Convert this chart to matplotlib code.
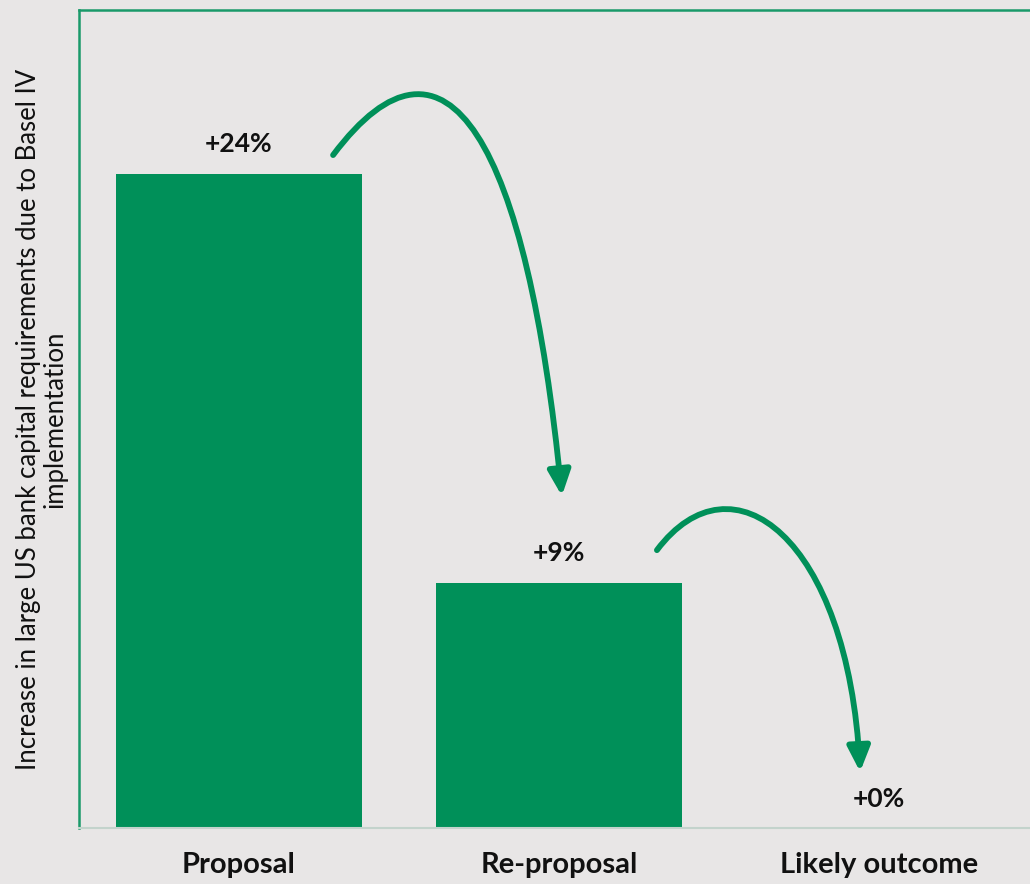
import matplotlib.pyplot as plt
from matplotlib.path import Path
from matplotlib.patches import FancyArrowPatch

# data
categories = ['Proposal', 'Re-proposal', 'Likely outcome']
increase_pct = [24, 9, 0]
value_labels = ['+24%', '+9%', '+0%']

GREEN = '#009059'
BG = '#E8E6E6'

plt.rcParams['font.family'] = ['Lato', 'DejaVu Sans']

fig = plt.figure(figsize=(10.30, 8.84), dpi=100, facecolor=BG)
ax = fig.add_axes([79 / 1030, 56 / 884, 960 / 1030, 818 / 884])
ax.set_facecolor(BG)

x = list(range(len(categories)))
ax.bar(x, increase_pct, width=0.77, color=GREEN, zorder=2)
ax.set_xlim(-0.5, 2.5)
ax.set_ylim(0, 30)

for xi, v, lab in zip(x, increase_pct, value_labels):
    ax.annotate(lab, (xi, v), xytext=(0, 21), textcoords='offset points',
                ha='center', va='center', fontsize=19, fontweight='bold', color='#111111')

ax.set_xticks(x)
ax.set_xticklabels(categories, fontsize=21, fontweight='bold', color='#111111')
ax.tick_params(axis='x', length=0, pad=17)
ax.set_yticks([])
ax.set_ylabel('Increase in large US bank capital requirements due to Basel IV\nimplementation',
              fontsize=18.5, color='#111111', labelpad=8, linespacing=1.1)

for side in ['left', 'top']:
    ax.spines[side].set_color('#1A9A6A')
    ax.spines[side].set_linewidth(1.8)
ax.spines['right'].set_visible(False)
ax.spines['bottom'].set_color('#C3D3CC')
ax.spines['bottom'].set_linewidth(1.5)

# curved arrows between bars (bezier control points in data units)
arcs = [
    [(0.294, 24.68), (0.65, 30.25), (0.90, 25.12), (1.009, 12.18)],
    [(1.306, 10.19), (1.541, 13.86), (1.903, 10.67), (1.941, 2.06)],
]
for pts in arcs:
    path = Path(pts, [Path.MOVETO, Path.CURVE4, Path.CURVE4, Path.CURVE4])
    arrow = FancyArrowPatch(path=path, arrowstyle='-|>,head_length=0.75,head_width=0.34',
                            mutation_scale=20, color=GREEN, linewidth=4.2,
                            clip_on=False, zorder=3)
    ax.add_patch(arrow)

fig.savefig('out.png', dpi=100, facecolor=BG)
